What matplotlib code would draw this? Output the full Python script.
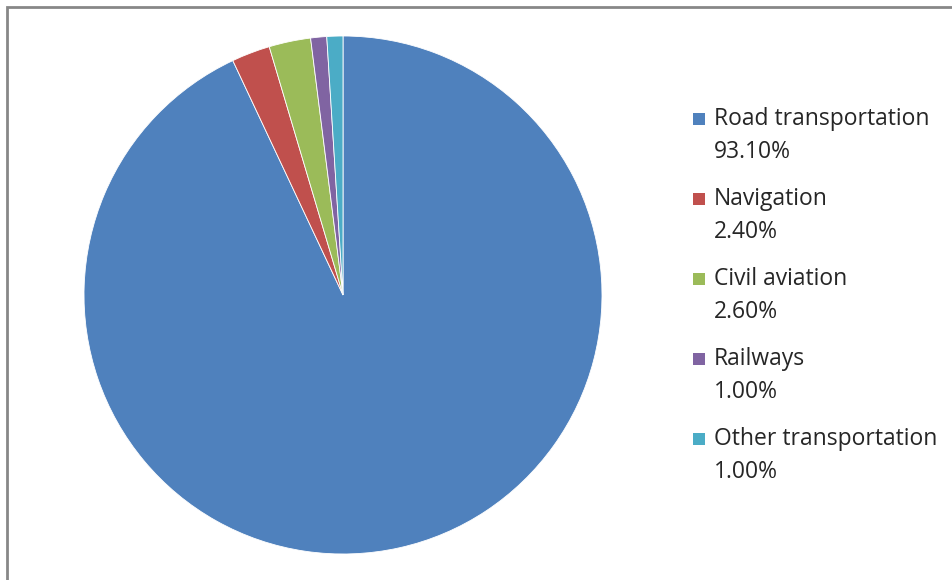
import matplotlib

matplotlib.use("Agg")
import matplotlib.pyplot as plt
from matplotlib.patches import Rectangle

# transport emissions share by mode (%)
modes = ["Road transportation", "Navigation", "Civil aviation", "Railways",
         "Other transportation"]
shares = [93.10, 2.40, 2.60, 1.00, 1.00]
colors = ["#4F81BD", "#C0504D", "#9BBB59", "#8064A2", "#4BACC6"]

W, H = 953, 580
fig = plt.figure(figsize=(W / 100, H / 100), dpi=100)
fig.patch.set_facecolor("white")

# chart frame (top and left edges visible)
frame = Rectangle((7 / W, -0.1), 1.2, (H - 7) / H + 0.1, transform=fig.transFigure,
                  fill=False, edgecolor="#878787", linewidth=2.0)
fig.add_artist(frame)

cx, cy, r = 343, 295, 259
ax = fig.add_axes([(cx - r) / W, (H - cy - r) / H, 2 * r / W, 2 * r / H])
ax.pie(shares, colors=colors, startangle=90, counterclock=False, radius=1,
       wedgeprops=dict(edgecolor="white", linewidth=0.6))
ax.set_xlim(-1, 1)
ax.set_ylim(-1, 1)
ax.set_aspect("auto")
ax.axis("off")

# legend: colour square, name, then percentage on the next line
y0, step, line = 119, 80, 33
font = dict(fontsize=16.5, family="Open Sans", color="#262626", va="center",
            ha="left")
for i, (name, val, c) in enumerate(zip(modes, shares, colors)):
    y = y0 + i * step
    fig.add_artist(Rectangle((693 / W, (H - y - 6) / H), 12 / W, 12 / H,
                             transform=fig.transFigure, facecolor=c,
                             edgecolor="none"))
    fig.text(714 / W, (H - y) / H, name, **font)
    fig.text(714 / W, (H - y - line) / H, f"{val:.2f}%", **font)

fig.savefig("out.png", dpi=100)
